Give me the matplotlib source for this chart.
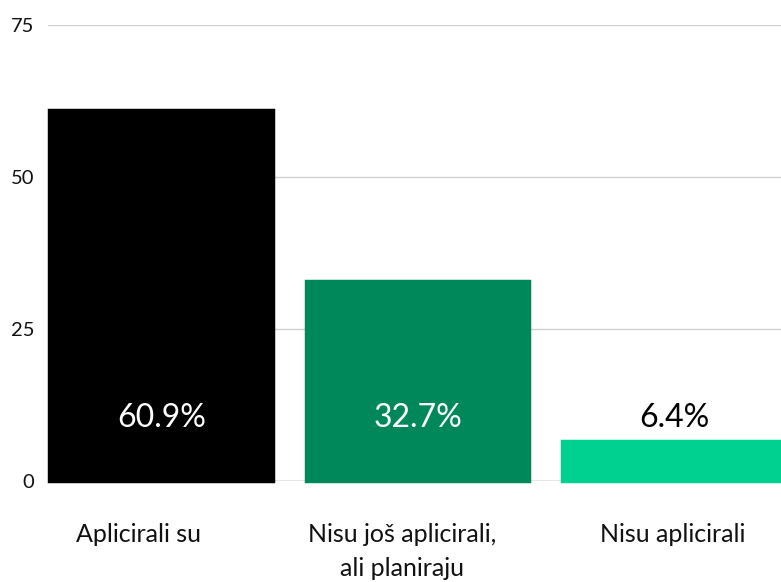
import matplotlib
matplotlib.use("Agg")
import matplotlib.pyplot as plt
import matplotlib.transforms as mtransforms

categories = ["Aplicirali su", "Nisu još aplicirali,\nali planiraju", "Nisu aplicirali"]
values = [60.9, 32.7, 6.4]
value_labels = ["60.9%", "32.7%", "6.4%"]
yticks = [0, 25, 50, 75]

bar_colors = ["#000000", "#00875A", "#00D090"]
label_colors = ["white", "white", "black"]
label_y = 10.3
cat_offsets_px = [-23, -16, -2]

plt.rcParams['font.family'] = ['Lato', 'DejaVu Sans']

W, H = 781, 582
fig = plt.figure(figsize=(W / 100, H / 100), dpi=100)
ax = fig.add_axes([48 / W, 1 - 481 / H, 733 / W, (481 - 25) / H])

x = list(range(len(categories)))
bars = ax.bar(x, values, width=0.868, color=bar_colors, edgecolor=bar_colors,
              linewidth=3.2, joinstyle='miter', zorder=3, clip_on=False)

ax.set_xlim(-0.4425, 2.415)
ax.set_ylim(0, 75)
ax.set_yticks(yticks)
ax.set_yticklabels([str(t) for t in yticks], fontsize=14.5, color="#111111")
ax.tick_params(axis='y', length=0, pad=10)
ax.set_xticks([])

for s in ax.spines.values():
    s.set_visible(False)

for t in yticks:
    ax.axhline(t, color="#888888" if t == 0 else "#d0d0d0", linewidth=1.0, zorder=1)

for xi, lab, c in zip(x, value_labels, label_colors):
    ax.text(xi, label_y, lab, ha='center', va='center', fontsize=23, color=c, zorder=4)

for xi, cat, off in zip(x, categories, cat_offsets_px):
    tr = ax.get_xaxis_transform() + mtransforms.ScaledTranslation(off / 100, -42 / 100, fig.dpi_scale_trans)
    ax.text(xi, 0, cat, transform=tr, ha='center', va='top', fontsize=18,
            color="#111111", linespacing=1.6)

fig.savefig("out.png", dpi=100)
